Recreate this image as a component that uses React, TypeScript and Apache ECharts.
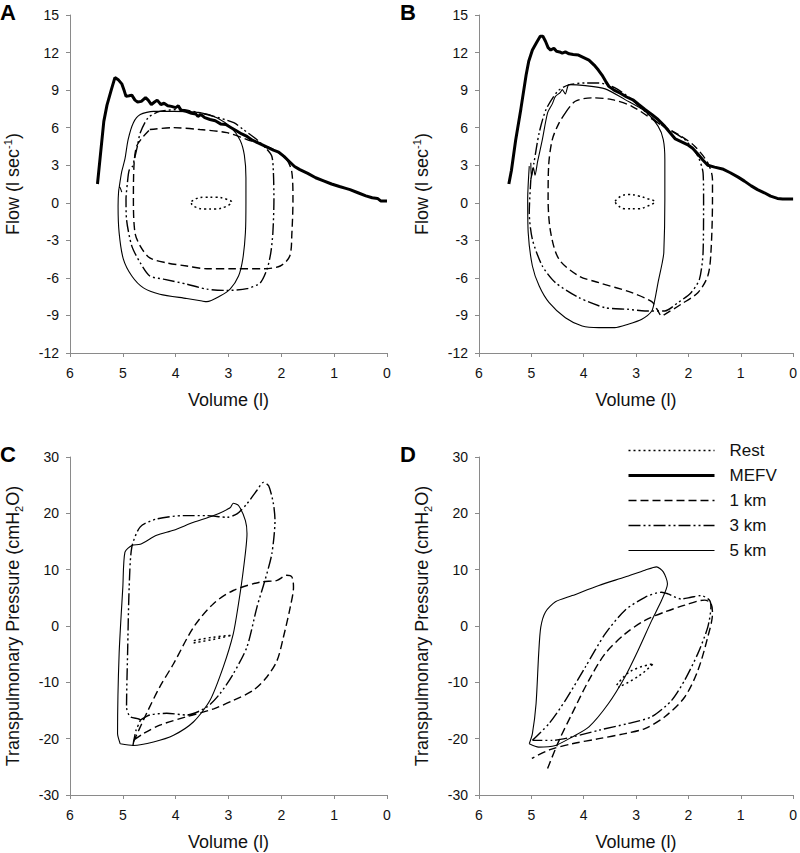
import React, { useEffect, useRef } from "react";
import * as echarts from "echarts";

const FONT = '"Liberation Sans", Arial, sans-serif';

// x ticks (volume, l) and y ticks
const volumeTicks = [0, 1, 2, 3, 4, 5, 6];
const flowRange = [-12, 15, 3];
const pressureRange = [-30, 30, 10];
const legendNames = ["Rest", "MEFV", "1 km", "3 km", "5 km"];

// ---------- Panel A (flow-volume) ----------
const aRest = [[3.70, 0.1], [3.6, 0.35], [3.45, 0.45], [3.25, 0.45], [3.05, 0.3], [2.94, 0.05], [3.05, -0.3], [3.25, -0.5], [3.45, -0.5], [3.62, -0.35], [3.70, -0.05], [3.70, 0.1]];
const aMefv = [[5.48, 1.5], [5.42, 4.0], [5.36, 6.5], [5.30, 7.8], [5.22, 9.0], [5.15, 10.0], [5.08, 9.8], [5.02, 9.5], [4.97, 8.9], [4.94, 8.5], [4.88, 8.55], [4.83, 8.6], [4.77, 8.2], [4.72, 8.05], [4.65, 8.1], [4.57, 8.4], [4.52, 8.2], [4.46, 7.85], [4.40, 8.05], [4.35, 8.2], [4.28, 7.85], [4.22, 7.95], [4.15, 7.75], [4.08, 7.7], [4.0, 7.6], [3.95, 7.75], [3.90, 7.4], [3.80, 7.3], [3.70, 7.15], [3.62, 7.1], [3.58, 6.9], [3.52, 7.05], [3.45, 6.8], [3.35, 6.65], [3.25, 6.55], [3.15, 6.3], [3.05, 6.25], [2.95, 6.0], [2.85, 5.75], [2.75, 5.5], [2.65, 5.3], [2.55, 5.0], [2.45, 4.8], [2.35, 4.6], [2.25, 4.4], [2.15, 4.2], [2.05, 4.05], [1.95, 3.7], [1.85, 3.3], [1.75, 2.9], [1.65, 2.65], [1.50, 2.35], [1.35, 2.0], [1.20, 1.75], [1.05, 1.5], [0.90, 1.3], [0.78, 1.15], [0.70, 1.05], [0.55, 0.8], [0.40, 0.55], [0.28, 0.4], [0.18, 0.35], [0.12, 0.15], [0.0, 0.15]];
const a1km = [[4.49, 5.85], [4.04, 6.0], [3.54, 5.85], [3.03, 5.6], [2.65, 5.05], [2.4, 4.7], [2.15, 4.25], [1.9, 3.46], [1.8, 2.4], [1.78, 0.27], [1.8, -2.4], [1.84, -4.25], [2.02, -5.05], [2.34, -5.27], [2.9, -5.27], [3.41, -5.27], [3.79, -5.05], [4.17, -4.8], [4.49, -4.4], [4.67, -3.46], [4.77, -2.4], [4.8, 0.27], [4.79, 2.9], [4.74, 4.5], [4.61, 5.3], [4.49, 5.85]];
const a3km = [[4.91, 1.73], [4.88, 2.6], [4.82, 2.9], [4.78, 3.5], [4.72, 4.6], [4.67, 5.6], [4.52, 6.8], [4.30, 7.3], [3.92, 7.45], [3.41, 7.05], [2.90, 6.4], [2.72, 5.85], [2.45, 5.0], [2.30, 4.4], [2.18, 3.72], [2.15, 2.4], [2.14, 0.27], [2.16, -2.4], [2.20, -4.0], [2.27, -5.3], [2.40, -6.4], [2.65, -6.86], [3.03, -7.0], [3.41, -6.9], [3.79, -6.5], [4.23, -6.1], [4.49, -5.85], [4.67, -4.8], [4.83, -3.46], [4.93, -1.33], [4.94, 0.27], [4.91, 1.73]];
const a5km = [[5.07, 1.2], [5.02, 2.5], [4.96, 3.5], [4.90, 5.05], [4.80, 6.4], [4.67, 7.05], [4.42, 7.3], [4.04, 7.3], [3.54, 7.2], [3.22, 6.8], [2.95, 6.0], [2.78, 5.0], [2.70, 3.8], [2.67, 2.0], [2.67, 0.0], [2.68, -2.4], [2.73, -4.5], [2.81, -5.85], [2.97, -6.9], [3.16, -7.45], [3.41, -7.9], [3.50, -7.85], [3.79, -7.65], [4.3, -7.3], [4.61, -6.8], [4.83, -5.85], [4.99, -4.5], [5.07, -2.4], [5.09, -0.27], [5.08, 0.9], [5.06, 1.25], [5.02, 0.85]];

// ---------- Panel B (flow-volume) ----------
const bRest = [[3.40, 0.13], [3.30, 0.5], [3.15, 0.66], [2.95, 0.55], [2.80, 0.35], [2.64, 0.08], [2.80, -0.3], [2.96, -0.48], [3.21, -0.48], [3.37, -0.13], [3.40, 0.13]];
const bMefv = [[5.43, 1.5], [5.38, 2.6], [5.30, 5.0], [5.20, 7.5], [5.10, 10.2], [5.05, 11.3], [4.98, 12.2], [4.90, 12.8], [4.83, 13.3], [4.78, 13.3], [4.73, 12.9], [4.68, 12.4], [4.63, 12.2], [4.57, 12.35], [4.52, 12.1], [4.46, 12.05], [4.41, 11.95], [4.35, 12.05], [4.28, 11.9], [4.2, 11.85], [4.1, 11.8], [4.0, 11.6], [3.9, 11.4], [3.8, 11.0], [3.72, 10.6], [3.65, 10.2], [3.58, 9.7], [3.52, 9.3], [3.42, 9.0], [3.3, 8.75], [3.18, 8.45], [3.05, 8.2], [2.95, 7.85], [2.83, 7.45], [2.7, 7.05], [2.58, 6.65], [2.45, 6.1], [2.35, 5.6], [2.25, 5.1], [2.12, 4.85], [2.0, 4.6], [1.92, 4.35], [1.82, 3.9], [1.72, 3.4], [1.63, 3.0], [1.5, 2.85], [1.35, 2.7], [1.2, 2.4], [1.05, 2.05], [0.93, 1.73], [0.8, 1.35], [0.68, 1.05], [0.55, 0.8], [0.43, 0.53], [0.3, 0.35], [0.2, 0.3], [0.0, 0.3]];
const b1km = [[4.35, 7.18], [4.16, 8.11], [3.84, 8.38], [3.46, 8.24], [3.08, 7.71], [2.58, 6.38], [2.14, 5.32], [1.88, 4.52], [1.63, 3.19], [1.54, 1.86], [1.54, 0.27], [1.57, -3.99], [1.63, -5.85], [1.82, -7.18], [2.14, -8.11], [2.45, -8.91], [2.51, -9.04], [2.6, -8.5], [2.7, -7.9], [3.08, -7.18], [3.71, -6.38], [4.09, -5.85], [4.47, -4.52], [4.63, -2.39], [4.68, 0.27], [4.67, 2.93], [4.6, 5.05], [4.47, 6.38], [4.35, 7.18]];
const b3km = [[5.01, 1.86], [4.95, 3.2], [4.85, 5.6], [4.72, 7.45], [4.5, 8.9], [4.3, 9.4], [3.97, 9.57], [3.71, 9.57], [3.40, 9.17], [3.08, 8.24], [2.58, 6.38], [2.07, 5.05], [1.82, 3.72], [1.72, 2.39], [1.71, 0.27], [1.72, -3.99], [1.79, -6.12], [1.95, -7.18], [2.2, -7.98], [2.45, -8.64], [2.83, -8.64], [3.15, -8.51], [3.59, -8.38], [4.09, -7.58], [4.54, -6.38], [4.79, -5.05], [4.98, -2.93], [5.04, -0.8], [5.01, 1.86]];
const b5km = [[5.01, 3.19], [5.0, 2.1], [4.96, 2.8], [4.93, 2.2], [4.88, 3.3], [4.79, 5.05], [4.69, 7.18], [4.6, 7.9], [4.54, 8.5], [4.45, 8.8], [4.41, 9.04], [4.35, 8.7], [4.28, 9.44], [3.97, 9.36], [3.59, 9.1], [3.21, 8.24], [2.83, 7.31], [2.58, 6.12], [2.48, 5.05], [2.45, 3.46], [2.45, 0.27], [2.47, -3.99], [2.5, -4.79], [2.58, -6.38], [2.64, -7.71], [2.7, -8.64], [2.89, -9.3], [3.15, -9.7], [3.41, -9.97], [3.71, -9.97], [4.03, -9.84], [4.35, -9.18], [4.66, -7.98], [4.85, -6.65], [4.98, -5.05], [5.06, -2.39], [5.07, 0.27], [5.04, 2.93]];

// ---------- Panel C (pressure-volume) ----------
const cRest = [[3.66, -3.0], [3.3, -2.4], [2.94, -1.65], [3.3, -2.0], [3.66, -2.6]];
const c1km = [[4.8, -20.6], [4.55, -15.5], [4.3, -10.8], [4.04, -6.7], [3.66, -0.2], [3.28, 4.0], [2.91, 6.3], [2.4, 7.8], [2.08, 8.1], [1.9, 9.0], [1.8, 8.7], [1.77, 6.9], [1.83, 3.4], [1.96, -1.95], [2.08, -6.1], [2.27, -9.0], [2.53, -11.4], [2.91, -13.2], [3.28, -14.7], [3.79, -16.1], [4.3, -17.6], [4.61, -19.1], [4.8, -20.3]];
const c3km = [[4.81, -21.3], [4.75, -18.5], [4.67, -16.7], [4.86, -16.1], [4.93, -14.4], [4.91, -4.9], [4.88, 6.9], [4.83, 14.0], [4.67, 17.6], [4.36, 19.0], [3.85, 19.6], [3.41, 19.6], [3.03, 19.3], [2.84, 19.9], [2.65, 21.7], [2.46, 24.1], [2.34, 25.5], [2.24, 24.9], [2.15, 21.7], [2.12, 18.7], [2.18, 12.8], [2.31, 8.1], [2.46, 3.4], [2.65, -3.7], [2.91, -8.5], [3.16, -12.0], [3.41, -14.4], [3.79, -15.8], [4.17, -15.5], [4.49, -15.8], [4.67, -16.7]];
const c5km = [[5.05, -20.9], [5.1, -19.1], [5.07, -4.9], [5.0, 6.9], [4.96, 13.1], [4.83, 14.3], [4.67, 14.5], [4.36, 16.1], [4.04, 17.0], [3.66, 18.4], [3.28, 19.6], [2.97, 21.0], [2.91, 21.8], [2.81, 21.4], [2.68, 18.7], [2.65, 16.4], [2.72, 9.9], [2.81, 4.0], [2.91, -1.4], [3.1, -7.3], [3.35, -13.2], [3.66, -17.0], [4.04, -19.4], [4.42, -20.6], [4.8, -21.2], [5.05, -20.9]];

// ---------- Panel D (pressure-volume) ----------
const dRest = [[3.37, -10.5], [3.1, -8.0], [2.67, -6.7], [2.95, -8.9], [3.34, -10.9]];
const d1km = [[4.69, -25.3], [4.47, -20.3], [4.22, -15.5], [3.9, -9.6], [3.59, -4.9], [3.21, -1.4], [2.83, 1.0], [2.45, 2.5], [2.07, 3.7], [1.69, 4.6], [1.57, 4.0], [1.54, 2.2], [1.63, -1.95], [1.82, -7.9], [2.07, -12.6], [2.45, -16.1], [2.83, -18.2], [3.21, -19.1], [3.71, -20.0], [4.22, -20.9], [4.66, -22.0], [4.99, -23.5]];
const d3km = [[4.98, -20.3], [4.66, -17.3], [4.35, -13.2], [3.97, -7.3], [3.59, -1.4], [3.21, 2.8], [2.83, 5.1], [2.51, 6.0], [2.39, 5.7], [2.14, 4.8], [1.95, 5.1], [1.76, 5.4], [1.6, 4.6], [1.57, 3.4], [1.63, -0.2], [1.82, -4.9], [2.07, -9.6], [2.32, -13.2], [2.7, -16.1], [3.15, -17.3], [3.71, -18.5], [4.22, -19.7], [4.6, -20.3], [4.98, -20.3]];
const d5km = [[5.04, -20.9], [4.98, -19.1], [4.91, -13.8], [4.86, -4.9], [4.82, -0.2], [4.73, 2.5], [4.54, 4.3], [4.22, 5.4], [3.71, 7.2], [3.21, 8.7], [2.83, 9.9], [2.61, 10.5], [2.48, 9.6], [2.4, 7.5], [2.51, 4.6], [2.7, 1.0], [2.96, -4.3], [3.21, -9.0], [3.53, -13.8], [3.9, -17.9], [4.22, -19.7], [4.54, -21.2], [4.86, -21.5], [5.04, -20.9]];

const lineStyles: Record<string, any> = {
  Rest: { type: [2, 3], width: 1.5 },
  MEFV: { type: "solid", width: 3 },
  "1 km": { type: [8, 4], width: 1.4 },
  "3 km": { type: [12, 3, 2, 3, 2, 3], width: 1.4 },
  "5 km": { type: "solid", width: 1.1 },
};
const smoothing: Record<string, any> = { Rest: 0.4, MEFV: false, "1 km": 0.3, "3 km": 0.25, "5 km": 0.25 };

const panels = [
  { letter: "A", kind: "flow", series: [["Rest", aRest], ["MEFV", aMefv], ["1 km", a1km], ["3 km", a3km], ["5 km", a5km]] },
  { letter: "B", kind: "flow", series: [["Rest", bRest], ["MEFV", bMefv], ["1 km", b1km], ["3 km", b3km], ["5 km", b5km]] },
  { letter: "C", kind: "pressure", series: [["Rest", cRest], ["1 km", c1km], ["3 km", c3km], ["5 km", c5km]] },
  { letter: "D", kind: "pressure", series: [["Rest", dRest], ["1 km", d1km], ["3 km", d3km], ["5 km", d5km]] },
];

const gridPos = [
  { left: 70, top: 15 },
  { left: 479, top: 15 },
  { left: 70, top: 457 },
  { left: 479, top: 457 },
];

export default function App() {
  const ref = useRef<HTMLDivElement>(null);
  useEffect(() => {
    if (!ref.current) return;
    const chart = echarts.init(ref.current, null, { renderer: "svg" });
    const axisColor = "#8a8a8a";
    const grids = gridPos.map((g) => ({ left: g.left, top: g.top, width: 317, height: 338, containLabel: false }));
    const xAxes = panels.map((p, i) => ({
      type: "value",
      gridIndex: i,
      min: volumeTicks[0],
      max: volumeTicks[volumeTicks.length - 1],
      interval: 1,
      inverse: true,
      name: "Volume (l)",
      nameLocation: "middle",
      nameGap: 38,
      nameTextStyle: { fontFamily: FONT, fontSize: 18, color: "#111" },
      axisLine: { show: true, onZero: false, lineStyle: { color: axisColor, width: 1 } },
      axisTick: { show: true, length: 4, lineStyle: { color: axisColor } },
      axisLabel: { fontFamily: FONT, fontSize: 14, color: "#111", margin: 13 },
      splitLine: { show: false },
    }));
    const yAxes = panels.map((p, i) => {
      const r = p.kind === "flow" ? flowRange : pressureRange;
      return {
        type: "value",
        gridIndex: i,
        min: r[0],
        max: r[1],
        interval: r[2],
        name: p.kind === "flow" ? "{t|Flow (l sec}{s|-1}{t|)}" : "{t|Transpulmonary Pressure (cmH}{b|2}{t|O)}",
        nameLocation: "middle",
        nameRotate: 90,
        nameGap: 46,
        nameTextStyle: {
          fontFamily: FONT,
          color: "#111",
          rich: {
            t: { fontFamily: FONT, fontSize: 18, lineHeight: 22, color: "#111" },
            s: { fontFamily: FONT, fontSize: 11, lineHeight: 12, verticalAlign: "top", color: "#111" },
            b: { fontFamily: FONT, fontSize: 11, lineHeight: 12, verticalAlign: "bottom", color: "#111" },
          },
        },
        axisLine: { show: true, onZero: false, lineStyle: { color: axisColor, width: 1 } },
        axisTick: { show: true, length: 4, lineStyle: { color: axisColor } },
        axisLabel: { fontFamily: FONT, fontSize: 14, color: "#111", margin: 11 },
        splitLine: { show: false },
      };
    });
    const series: any[] = [];
    panels.forEach((p, i) => {
      p.series.forEach(([name, data]) => {
        series.push({
          type: "line",
          name,
          xAxisIndex: i,
          yAxisIndex: i,
          data,
          symbol: "none",
          showSymbol: false,
          smooth: smoothing[name as string],
          lineStyle: { color: "#000", ...lineStyles[name as string] },
          itemStyle: { color: "#000" },
          z: name === "MEFV" ? 3 : 2,
        });
      });
    });
    const graphic = panels.map((p, i) => ({
      type: "text",
      left: i % 2 === 0 ? 0 : 400,
      top: i < 2 ? 1 : 443,
      style: { text: p.letter, fontFamily: FONT, fontSize: 22, fontWeight: "bold", fill: "#000" },
    }));
    chart.setOption({
      animation: false,
      backgroundColor: "#fff",
      grid: grids,
      xAxis: xAxes,
      yAxis: yAxes,
      series,
      graphic,
      legend: {
        data: legendNames,
        orient: "vertical",
        left: 622,
        top: 437,
        itemWidth: 86,
        itemHeight: 14,
        itemGap: 8,
        selectedMode: false,
        itemStyle: { opacity: 0, borderWidth: 0 },
        lineStyle: { width: "inherit", type: "inherit", color: "#000" },
        textStyle: { fontFamily: FONT, fontSize: 17, color: "#111", padding: [0, 0, 0, 10] },
      },
    });
    return () => chart.dispose();
  }, []);
  return <div ref={ref} style={{ width: 800, height: 853, position: "absolute", left: 0, top: 0 }} />;
}
